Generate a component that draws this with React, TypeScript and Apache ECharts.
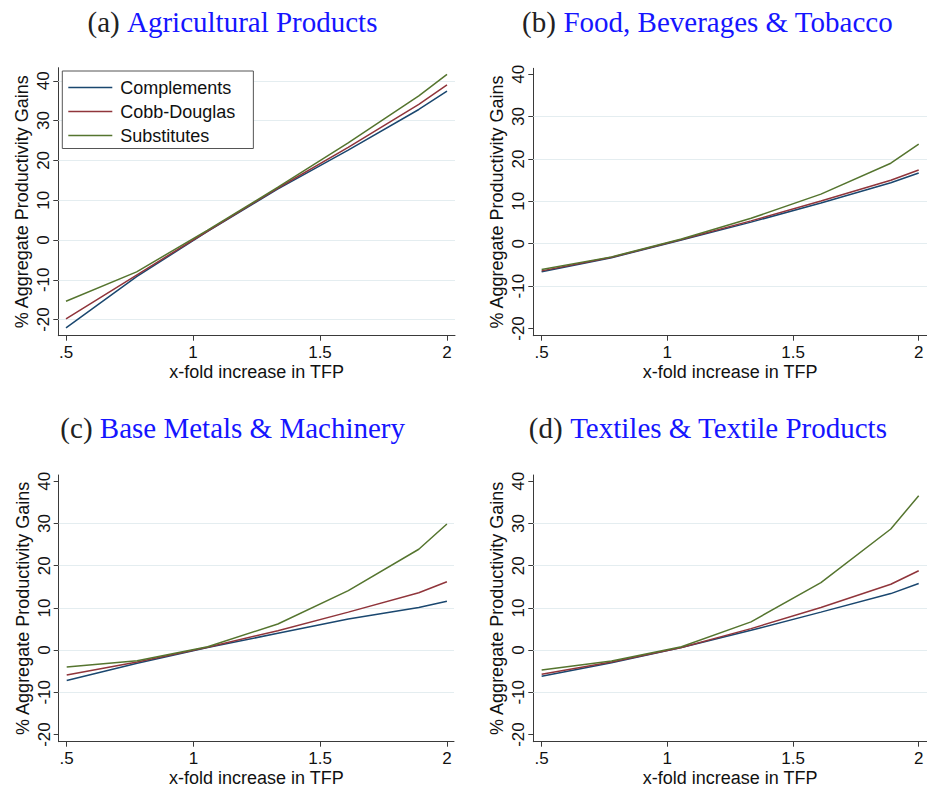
import React, { useEffect, useRef } from "react";
import * as echarts from "echarts";

// x-fold increase in TFP at which the gains were evaluated
const tfp = [0.5, 0.778, 1.056, 1.333, 1.611, 1.889, 2];

const seriesNames = ["Complements", "Cobb-Douglas", "Substitutes"];
const seriesColors = ["#1a476f", "#90353b", "#55752f"];

// (a) Agricultural Products
const agriComplements = [-22.1, -9.2, 2.1, 12.8, 22.6, 32.8, 37.4];
const agriCobbDouglas = [-19.8, -8.8, 2.2, 13.0, 23.3, 34.1, 39.0];
const agriSubstitutes = [-15.4, -8.0, 2.4, 13.2, 24.4, 36.2, 41.6];

// (b) Food, Beverages & Tobacco
const foodComplements = [-6.6, -3.3, 0.9, 5.1, 9.6, 14.4, 16.7];
const foodCobbDouglas = [-6.4, -3.2, 1.0, 5.4, 10.1, 15.0, 17.4];
const foodSubstitutes = [-6.1, -3.1, 1.1, 6.0, 11.7, 19.0, 23.5];

// (c) Base Metals & Machinery
const metalComplements = [-7.2, -3.1, 0.6, 4.0, 7.4, 10.1, 11.6];
const metalCobbDouglas = [-5.9, -2.8, 0.7, 4.6, 9.0, 13.6, 16.2];
const metalSubstitutes = [-4.0, -2.5, 0.8, 6.2, 14.1, 23.9, 29.9];

// (d) Textiles & Textile Products
const textComplements = [-6.2, -3.0, 0.6, 4.7, 9.0, 13.4, 15.8];
const textCobbDouglas = [-5.7, -2.8, 0.6, 5.1, 10.1, 15.6, 18.8];
const textSubstitutes = [-4.7, -2.6, 0.8, 6.7, 16.0, 28.7, 36.6];

const yTicks = [-20, -10, 0, 10, 20, 30, 40];
const xTicks = [0.5, 1, 1.5, 2];
const gridAll = [-20, -10, 0, 10, 20, 30, 40];
const gridInner = [-10, 0, 10, 20, 30];

const panelTags = ["(a)", "(b)", "(c)", "(d)"];
const panelNames = [
  "Agricultural Products",
  "Food, Beverages & Tobacco",
  "Base Metals & Machinery",
  "Textiles & Textile Products",
];
const panelValues = [
  [agriComplements, agriCobbDouglas, agriSubstitutes],
  [foodComplements, foodCobbDouglas, foodSubstitutes],
  [metalComplements, metalCobbDouglas, metalSubstitutes],
  [textComplements, textCobbDouglas, textSubstitutes],
];
const panelGridLines = [gridAll, gridInner, gridInner, gridInner];

const SANS = "'Liberation Sans', Arial, Helvetica, sans-serif";
const SERIF = "'Liberation Serif', 'Times New Roman', serif";

// plot rectangles and axis extents of the four panels
const layout = [
  { left: 58.3, top: 67.7, width: 396.7, height: 268, xMin: 0.4697, xMax: 2.0315, yMin: -24.05, yMax: 43.3, cx: 232.5, ty: 21.5 },
  { left: 533.3, top: 68.3, width: 396.7, height: 267.4, xMin: 0.4668, xMax: 2.033, yMin: -21.7, yMax: 41.4, cx: 707.5, ty: 21.5 },
  { left: 58.7, top: 475, width: 395.3, height: 266.7, xMin: 0.4684, xMax: 2.028, yMin: -21.7, yMax: 41.5, cx: 232.7, ty: 427.5 },
  { left: 533.3, top: 475, width: 396.7, height: 266.7, xMin: 0.4668, xMax: 2.033, yMin: -21.7, yMax: 41.5, cx: 708, ty: 427.5 },
];

const axisColor = "#3a3a3a";
const gridColor = "#e4edf0";

function buildOption(): echarts.EChartsOption {
  const grids = layout.map((l) => ({
    left: l.left,
    top: l.top,
    width: l.width,
    height: l.height,
    containLabel: false,
  }));

  const xAxes = layout.map((l, i) => ({
    type: "value" as const,
    gridIndex: i,
    min: l.xMin,
    max: l.xMax,
    name: "x-fold increase in TFP",
    nameLocation: "middle" as const,
    nameGap: 27,
    nameTextStyle: { fontFamily: SANS, fontSize: 18, color: "#111" },
    axisLine: { show: true, onZero: false, lineStyle: { color: axisColor, width: 1 } },
    axisTick: { show: true, length: 5, customValues: xTicks, lineStyle: { color: axisColor } },
    axisLabel: {
      customValues: xTicks,
      margin: 8,
      fontFamily: SANS,
      fontSize: 17,
      color: "#111",
      formatter: (v: number) => (v === 0.5 ? ".5" : String(v)),
    },
    splitLine: { show: false },
  }));

  const yAxes = layout.map((l, i) => ({
    type: "value" as const,
    gridIndex: i,
    min: l.yMin,
    max: l.yMax,
    name: "% Aggregate Productivity Gains",
    nameLocation: "middle" as const,
    nameGap: 27,
    nameRotate: 90,
    nameTextStyle: { fontFamily: SANS, fontSize: 18, color: "#111" },
    axisLine: { show: true, onZero: false, lineStyle: { color: axisColor, width: 1 } },
    axisTick: { show: true, length: 5, customValues: yTicks, lineStyle: { color: axisColor } },
    axisLabel: {
      customValues: yTicks,
      rotate: 90,
      margin: 6,
      fontFamily: SANS,
      fontSize: 17,
      color: "#111",
    },
    splitLine: { show: false },
  }));

  const series: any[] = [];
  panelValues.forEach((vals, p) => {
    vals.forEach((ys, s) => {
      series.push({
        type: "line",
        name: seriesNames[s],
        xAxisIndex: p,
        yAxisIndex: p,
        data: tfp.map((x, k) => [x, ys[k]]),
        symbol: "none",
        lineStyle: { color: seriesColors[s], width: 1.5 },
        itemStyle: { color: seriesColors[s] },
        z: 3 + s,
        markLine:
          s === 0
            ? {
                silent: true,
                symbol: "none",
                z: 1,
                label: { show: false },
                lineStyle: { color: gridColor, width: 1, type: "solid" },
                emphasis: { disabled: true },
                data: panelGridLines[p].map((v) => ({ yAxis: v })),
              }
            : undefined,
      });
    });
  });

  const graphic = layout.map((l, i) => ({
    type: "text" as const,
    x: l.cx,
    y: l.ty,
    style: {
      text: `{k|${panelTags[i]}} {t|${panelNames[i]}}`,
      align: "center",
      verticalAlign: "middle",
      fontFamily: SERIF,
      fontSize: 29,
      fill: "#222",
      rich: {
        k: { fill: "#222", fontFamily: SERIF, fontSize: 29 },
        t: { fill: "#1515ff", fontFamily: SERIF, fontSize: 29 },
      },
    },
  }));

  return {
    animation: false,
    backgroundColor: "#ffffff",
    grid: grids,
    xAxis: xAxes,
    yAxis: yAxes,
    series,
    graphic,
    legend: {
      show: true,
      data: seriesNames,
      orient: "vertical",
      left: 62.3,
      top: 71,
      padding: [7.5, 18, 4, 6],
      borderColor: "#555",
      borderWidth: 1,
      backgroundColor: "#ffffff",
      icon: "rect",
      itemWidth: 44,
      itemHeight: 1.5,
      itemGap: 6,
      selectedMode: false,
      textStyle: { fontFamily: SANS, fontSize: 18, color: "#111", padding: [0, 0, 0, 3] },
    },
  };
}

export default function App() {
  const ref = useRef<HTMLDivElement>(null);
  useEffect(() => {
    if (!ref.current) return;
    const chart = echarts.init(ref.current, undefined, { renderer: "svg" });
    chart.setOption(buildOption());
    return () => chart.dispose();
  }, []);
  return (
    <div
      ref={ref}
      style={{ position: "fixed", left: 0, top: 0, width: 927, height: 789, background: "#fff" }}
    />
  );
}
